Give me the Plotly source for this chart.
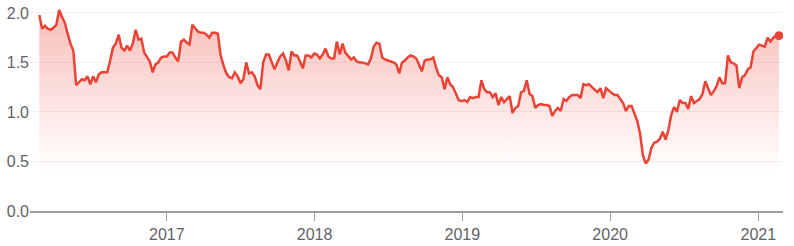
import pandas as pd
import plotly.graph_objects as go

start_date = "2016-02-21"
values = [
    1.98, 1.84, 1.87, 1.84, 1.83, 1.85, 1.88, 2.03, 1.96, 1.90,
    1.79, 1.69, 1.62, 1.27, 1.30, 1.33, 1.32, 1.36, 1.28, 1.36,
    1.30, 1.38, 1.40, 1.40, 1.40, 1.52, 1.65, 1.69, 1.78, 1.65,
    1.62, 1.67, 1.62, 1.69, 1.83, 1.73, 1.74, 1.60, 1.55, 1.51,
    1.40, 1.48, 1.50, 1.55, 1.56, 1.56, 1.60, 1.60, 1.55, 1.51,
    1.71, 1.73, 1.70, 1.68, 1.88, 1.84, 1.81, 1.80, 1.80, 1.78,
    1.75, 1.80, 1.80, 1.79, 1.57, 1.47, 1.39, 1.35, 1.34, 1.40,
    1.36, 1.29, 1.33, 1.50, 1.39, 1.40, 1.36, 1.27, 1.23, 1.50,
    1.58, 1.58, 1.51, 1.43, 1.50, 1.56, 1.59, 1.52, 1.42, 1.61,
    1.57, 1.57, 1.51, 1.44, 1.57, 1.57, 1.55, 1.59, 1.58, 1.54,
    1.58, 1.64, 1.56, 1.54, 1.54, 1.71, 1.58, 1.69, 1.60, 1.57,
    1.53, 1.55, 1.51, 1.50, 1.50, 1.49, 1.48, 1.54, 1.66, 1.70,
    1.69, 1.55, 1.53, 1.52, 1.51, 1.50, 1.48, 1.39, 1.50, 1.52,
    1.55, 1.57, 1.56, 1.54, 1.48, 1.41, 1.52, 1.53, 1.53, 1.55,
    1.45, 1.37, 1.35, 1.23, 1.35, 1.28, 1.25, 1.18, 1.12, 1.11,
    1.12, 1.10, 1.15, 1.14, 1.15, 1.15, 1.32, 1.23, 1.20, 1.20,
    1.15, 1.19, 1.07, 1.15, 1.10, 1.13, 1.16, 0.99, 1.04, 1.06,
    1.20, 1.21, 1.32, 1.18, 1.16, 1.04, 1.07, 1.08, 1.07, 1.07,
    1.06, 0.96, 1.01, 1.04, 1.01, 1.13, 1.11, 1.15, 1.17, 1.17,
    1.17, 1.14, 1.28, 1.27, 1.28, 1.25, 1.22, 1.20, 1.24, 1.14,
    1.24, 1.21, 1.19, 1.17, 1.17, 1.13, 1.09, 1.01, 1.06, 1.06,
    0.99, 0.91, 0.78, 0.56, 0.48, 0.52, 0.64, 0.69, 0.70, 0.73,
    0.80, 0.72, 0.82, 0.97, 1.05, 1.00, 1.12, 1.09, 1.09, 1.03,
    1.16, 1.09, 1.11, 1.13, 1.18, 1.31, 1.24, 1.17, 1.21, 1.26,
    1.35, 1.29, 1.29, 1.57, 1.50, 1.49, 1.47, 1.24, 1.35, 1.37,
    1.43, 1.45, 1.61, 1.64, 1.68, 1.67, 1.66, 1.75, 1.71, 1.75,
    1.77, 1.77,
]
dates = pd.date_range(start_date, periods=len(values), freq="7D")

y_ticks = [0.0, 0.5, 1.0, 1.5, 2.0]
x_range = ["2016-01-29", "2021-03-03"]

LINE = "#ea4335"
GREY_TXT = "#5f6368"
AXIS = "#9e9e9e"

fig = go.Figure()
fig.add_trace(go.Scatter(
    x=dates, y=values, mode="lines",
    line=dict(color=LINE, width=2.5),
    fill="tozeroy",
    fillgradient=dict(
        type="vertical", start=0.42, stop=2.0,
        colorscale=[[0, "rgba(234,67,53,0)"], [1, "rgba(234,67,53,0.34)"]],
    ),
    hoverinfo="skip", showlegend=False,
))
fig.add_trace(go.Scatter(
    x=[dates[-1]], y=[values[-1]], mode="markers",
    marker=dict(color=LINE, size=9),
    hoverinfo="skip", showlegend=False,
))

fig.update_layout(
    width=794, height=246,
    margin=dict(l=30, r=11, t=3, b=32),
    paper_bgcolor="white", plot_bgcolor="white",
    font=dict(family="Arial, Liberation Sans, sans-serif", size=16, color=GREY_TXT),
    xaxis=dict(
        type="date", range=x_range, tick0="2017-01-01", dtick="M12",
        tickformat="%Y", ticks="outside", ticklen=8, tickcolor=AXIS, tickwidth=1,
        showgrid=False, showline=True, linecolor=AXIS, linewidth=1.5,
        zeroline=False, fixedrange=True,
    ),
    yaxis=dict(
        range=[0, 2.1], tickvals=y_ticks, tickformat=".1f",
        showgrid=True, gridcolor="#f1f1f1", gridwidth=1,
        zeroline=False, showline=False, ticks="", fixedrange=True,
    ),
)

fig.write_html("out.html")
